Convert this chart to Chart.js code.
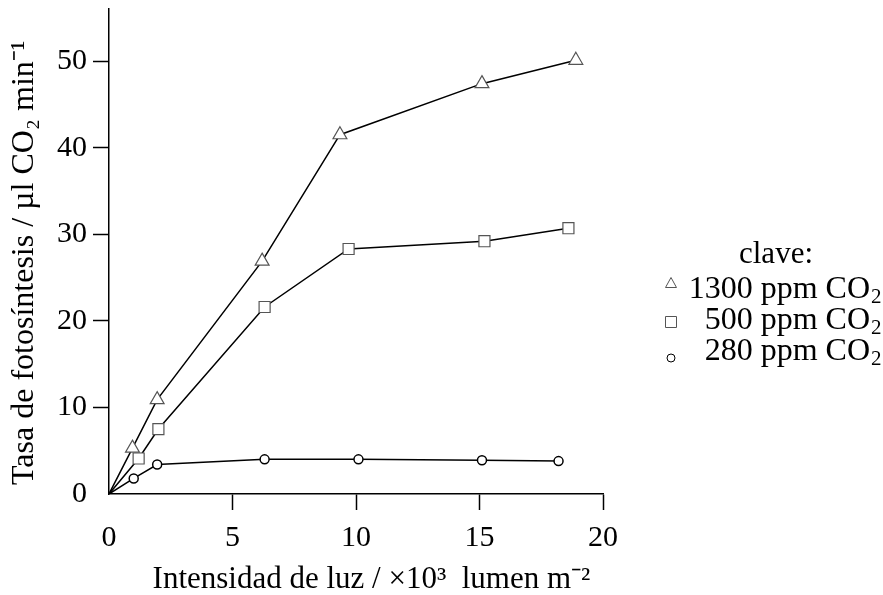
<!DOCTYPE html>
<html>
<head>
<meta charset="utf-8">
<script src="https://cdn.jsdelivr.net/npm/chart.js@4/dist/chart.umd.min.js"></script>
<style>
  html, body { margin: 0; padding: 0; background: #fff; }
  #wrap { width: 883px; height: 595px; }
</style>
</head>
<body>
<div id="wrap"><canvas id="fotoChart" width="883" height="595"></canvas></div>
<script>
// light intensity (x 10^3 lumen m^-2) and rate of photosynthesis for each CO2 level
const x1300 = [0, 0.95, 1.95, 6.2, 9.35, 15.1, 18.9];
const y1300 = [0, 5.3, 10.9, 26.9, 41.5, 47.4, 50.1];

const x500 = [0, 1.2, 2.0, 6.3, 9.7, 15.2, 18.6];
const y500 = [0, 4.1, 7.5, 21.6, 28.3, 29.2, 30.7];

const x280 = [0, 1.0, 1.95, 6.3, 10.1, 15.1, 18.2];
const y280 = [0, 1.8, 3.4, 4.0, 4.0, 3.9, 3.8];

const xTicks = [0, 5, 10, 15, 20];
const yTicks = [0, 10, 20, 30, 40, 50];

const seriesNames = ["1300 ppm CO", "500 ppm CO", "280 ppm CO"];
const legendTitle = "clave:";

const FONT = "'Liberation Serif', 'Times New Roman', serif";

function toPoints(xs, ys) {
  return xs.map((x, i) => ({ x: x, y: ys[i] }));
}

// first point (origin) has no marker
function radiusList(r, n) {
  const out = [];
  for (let i = 0; i < n; i++) out.push(i === 0 ? 0 : r);
  return out;
}

// legend drawn by hand so it can have the "clave:" header and subscripts
const keyPlugin = {
  id: "keyPlugin",
  afterDraw(chart) {
    const ctx = chart.ctx;
    ctx.save();
    ctx.fillStyle = "#000";
    ctx.font = "31px " + FONT;
    ctx.textAlign = "center";
    ctx.textBaseline = "alphabetic";
    ctx.fillText(legendTitle, 776, 263);

    const rows = [
      { y: 298, my: 283, style: "triangle" },
      { y: 329, my: 322, style: "rect" },
      { y: 360, my: 358, style: "circle" },
    ];
    rows.forEach((row, i) => {
      const main = seriesNames[i];
      ctx.font = "32px " + FONT;
      const subW = 11;
      const mainW = ctx.measureText(main).width;
      const right = 881;
      ctx.textAlign = "left";
      ctx.fillText(main, right - subW - mainW, row.y);
      ctx.font = "21px " + FONT;
      ctx.fillText("2", right - subW + 1, row.y + 5);

      ctx.lineWidth = 1;
      ctx.strokeStyle = row.style === "circle" ? "#000" : "#555";
      const cx = 671, cy = row.my;
      ctx.beginPath();
      if (row.style === "triangle") {
        ctx.moveTo(cx, cy - 5.5);
        ctx.lineTo(cx + 5.5, cy + 4.5);
        ctx.lineTo(cx - 5.5, cy + 4.5);
        ctx.closePath();
      } else if (row.style === "rect") {
        ctx.rect(cx - 5.5, cy - 5.5, 11, 11);
      } else {
        ctx.arc(cx, cy, 4, 0, Math.PI * 2);
      }
      ctx.stroke();
    });
    ctx.restore();
  },
};

const config = {
  type: "scatter",
  data: {
    datasets: [
      {
        label: seriesNames[0] + "₂",
        data: toPoints(x1300, y1300),
        showLine: true,
        borderColor: "#000",
        borderWidth: 1.5,
        pointStyle: "triangle",
        pointRadius: radiusList(8, x1300.length),
        pointBackgroundColor: "#fff",
        pointBorderColor: "#555",
        pointBorderWidth: 1.2,
      },
      {
        label: seriesNames[1] + "₂",
        data: toPoints(x500, y500),
        showLine: true,
        borderColor: "#000",
        borderWidth: 1.5,
        pointStyle: "rect",
        pointRadius: radiusList(7.8, x500.length),
        pointBackgroundColor: "#fff",
        pointBorderColor: "#555",
        pointBorderWidth: 1.2,
      },
      {
        label: seriesNames[2] + "₂",
        data: toPoints(x280, y280),
        showLine: true,
        borderColor: "#000",
        borderWidth: 1.5,
        pointStyle: "circle",
        pointRadius: radiusList(4.5, x280.length),
        pointBackgroundColor: "#fff",
        pointBorderColor: "#000",
        pointBorderWidth: 1.5,
      },
    ],
  },
  options: {
    responsive: false,
    animation: false,
    layout: { padding: { top: 8, right: 280, left: 0, bottom: 0 } },
    plugins: {
      legend: { display: false },
      tooltip: { enabled: false },
    },
    scales: {
      x: {
        type: "linear",
        min: 0,
        max: 20,
        afterBuildTicks: (scale) => {
          scale.ticks = xTicks.map((v) => ({ value: v }));
        },
        afterFit: (scale) => {
          scale.height = 101;
        },
        border: { display: true, color: "#000", width: 1.5 },
        grid: {
          drawOnChartArea: false,
          drawTicks: true,
          tickLength: 16,
          tickWidth: 1.5,
          color: (c) => (c.tick && c.tick.value === 0 ? "rgba(0,0,0,0)" : "#000"),
        },
        ticks: {
          color: "#000",
          padding: 10,
          maxRotation: 0,
          font: { family: FONT, size: 30 },
        },
        title: {
          display: true,
          text: "\u2003Intensidad de luz / ×10³\u2002lumen m⁻²",
          color: "#000",
          font: { family: FONT, size: 31 },
          padding: { top: 0, bottom: -3 },
        },
      },
      y: {
        type: "linear",
        min: 0,
        max: 56,
        afterBuildTicks: (scale) => {
          scale.ticks = yTicks.map((v) => ({ value: v }));
        },
        afterFit: (scale) => {
          scale.width = 109;
          scale.paddingTop = 0;
          scale.paddingBottom = 0;
        },
        border: { display: true, color: "#000", width: 1.5 },
        grid: {
          drawOnChartArea: false,
          drawTicks: true,
          tickLength: 16,
          tickWidth: 1.5,
          color: (c) => (c.tick && c.tick.value === 0 ? "rgba(0,0,0,0)" : "#000"),
        },
        ticks: {
          color: "#000",
          padding: 6,
          font: { family: FONT, size: 30 },
        },
        title: {
          display: true,
          text: "Tasa de fotosíntesis / µl CO₂ min⁻¹\u2002\u2009",
          color: "#000",
          font: { family: FONT, size: 32 },
          padding: { top: 5, bottom: 0 },
        },
      },
    },
  },
  plugins: [keyPlugin],
};

window.onload = function () {
  const ctx = document.getElementById("fotoChart").getContext("2d");
  const fotoChart = new Chart(ctx, config);
};
</script>
</body>
</html>
